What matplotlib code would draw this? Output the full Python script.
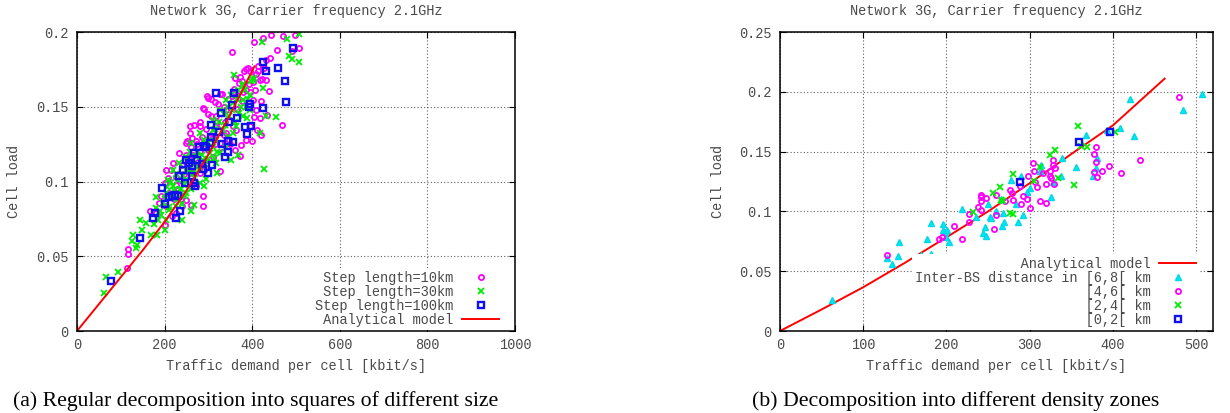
import matplotlib
matplotlib.use('Agg')
import matplotlib.pyplot as plt
from matplotlib.ticker import FormatStrFormatter

# --- (a) decomposition into squares: (traffic kbit/s, cell load)
step_10km = [
    (115, 0.042), (117, 0.0516), (117, 0.0547), (167, 0.080), (200, 0.0708), (216, 0.077),
    (287, 0.0833), (287, 0.0906), (261, 0.0844), (240, 0.0833), (257, 0.1324), (259, 0.1368),
    (263, 0.129), (271, 0.1268), (280, 0.1368), (291, 0.1484), (299, 0.1556), (306, 0.1551),
    (316, 0.1529), (326, 0.1585), (332, 0.1587), (353, 0.1866), (353, 0.157), (360, 0.1692),
    (377, 0.1674), (381, 0.1737), (385, 0.1752), (390, 0.1759), (395, 0.1737), (403, 0.1931),
    (413, 0.177), (413, 0.1737), (425, 0.196), (443, 0.1982), (440, 0.1826), (432, 0.1815),
    (423, 0.1685), (432, 0.168), (438, 0.1605), (407, 0.1614), (401, 0.1663), (421, 0.154),
    (417, 0.1424), (434, 0.1442), (412, 0.1346), (421, 0.1313), (400, 0.127), (375, 0.1243),
    (373, 0.1172), (362, 0.1342), (365, 0.1487), (403, 0.1429), (456, 0.1882), (471, 0.197),
    (497, 0.198), (506, 0.189), (490, 0.187), (469, 0.1377), (377, 0.154), (287, 0.149),
    (326, 0.1067), (305, 0.1435), (317, 0.1368), (261, 0.1234), (248, 0.118), (240, 0.1112),
    (215, 0.1078), (208, 0.1022), (200, 0.0989), (192, 0.090), (187, 0.0855), (181, 0.0788),
    (204, 0.0833), (227, 0.0788), (249, 0.0877), (272, 0.0967), (280, 0.1056), (295, 0.1145),
    (310, 0.1167), (326, 0.1257), (341, 0.1324), (356, 0.1368), (348, 0.128), (360, 0.121),
    (386, 0.128), (394, 0.1368), (409, 0.148), (401, 0.1547), (386, 0.1614), (371, 0.1658),
    (341, 0.148), (318, 0.1435), (303, 0.130), (288, 0.1234), (249, 0.1257), (234, 0.119),
    (219, 0.1123), (204, 0.1078), (227, 0.1033), (265, 0.110), (280, 0.1201),
    (230, 0.095), (245, 0.105), (255, 0.115), (265, 0.118), (275, 0.125), (285, 0.130),
    (295, 0.135), (310, 0.130), (320, 0.140), (335, 0.150), (345, 0.155), (210, 0.092),
    (225, 0.098), (238, 0.088), (270, 0.100), (290, 0.108), (330, 0.120), (350, 0.125),
    (365, 0.158), (380, 0.160), (395, 0.160), (300, 0.145), (280, 0.140),
    (252, 0.127), (268, 0.138), (296, 0.157), (322, 0.152), (338, 0.140), (358, 0.162),
    (372, 0.170), (392, 0.165), (408, 0.172), (418, 0.168), (428, 0.176), (222, 0.088),
    (236, 0.101), (258, 0.106), (276, 0.113), (300, 0.121), (314, 0.125), (336, 0.131),
]
step_30km = [
    (62, 0.0257), (66, 0.0364), (93, 0.0393), (128, 0.064), (125, 0.0605), (135, 0.0558),
    (144, 0.0743), (148, 0.0676), (136, 0.0576), (176, 0.0717), (182, 0.064), (180, 0.0895),
    (170, 0.0643), (192, 0.0779), (204, 0.0743), (201, 0.0676), (211, 0.081), (261, 0.0801),
    (268, 0.0844), (289, 0.0967), (423, 0.1933), (479, 0.1955), (506, 0.1984), (485, 0.1837),
    (491, 0.182), (506, 0.180), (426, 0.1085), (454, 0.1429), (431, 0.1435), (417, 0.1324),
    (425, 0.1625), (359, 0.1714), (404, 0.1694), (398, 0.167), (388, 0.1424), (367, 0.1176),
    (351, 0.1145), (320, 0.106), (295, 0.102), (249, 0.101), (238, 0.0953), (227, 0.0888),
    (246, 0.090), (219, 0.0967), (208, 0.101), (219, 0.1078), (234, 0.1123), (249, 0.1167),
    (261, 0.1257), (280, 0.1324), (291, 0.128), (310, 0.1413), (326, 0.148), (341, 0.1547),
    (356, 0.1525), (371, 0.157), (379, 0.1547), (386, 0.150), (371, 0.1458), (348, 0.1435),
    (333, 0.1346), (318, 0.128), (303, 0.119), (288, 0.1145), (272, 0.110), (265, 0.1056),
    (249, 0.1078), (280, 0.0989), (310, 0.1234), (326, 0.119), (318, 0.1123), (341, 0.1234),
    (356, 0.1324), (363, 0.1368), (379, 0.1435), (394, 0.148), (401, 0.168), (379, 0.1636),
    (368, 0.1614), (181, 0.0821), (196, 0.0855), (227, 0.0833), (240, 0.0743), (204, 0.092),
    (215, 0.100), (230, 0.101), (272, 0.1167), (257, 0.120), (310, 0.1346),
    (215, 0.090), (225, 0.105), (235, 0.095), (245, 0.098), (255, 0.108), (265, 0.112),
    (275, 0.120), (285, 0.118), (295, 0.125), (305, 0.128), (315, 0.135), (325, 0.140),
    (335, 0.145), (345, 0.150), (355, 0.148), (365, 0.155), (240, 0.085), (250, 0.092),
    (260, 0.095), (270, 0.105), (280, 0.108), (300, 0.115), (320, 0.120), (190, 0.080),
    (200, 0.088), (210, 0.083), (230, 0.088), (345, 0.130), (360, 0.140), (375, 0.150),
    (390, 0.155), (380, 0.165),
    (158, 0.072), (186, 0.074), (206, 0.096), (222, 0.094), (242, 0.104), (262, 0.114),
    (292, 0.112), (312, 0.116), (338, 0.138), (352, 0.158), (384, 0.161), (396, 0.158),
]
step_100km = [
    (77, 0.0335), (143, 0.0623), (173, 0.0754), (179, 0.0792), (194, 0.0955), (201, 0.0848),
    (209, 0.0895), (218, 0.0904), (224, 0.0913), (230, 0.090), (226, 0.0759), (235, 0.0801),
    (232, 0.104), (243, 0.1076), (246, 0.099), (250, 0.1145), (255, 0.1125), (262, 0.1107),
    (262, 0.104), (267, 0.1188), (268, 0.099), (269, 0.097), (275, 0.1145), (278, 0.1228),
    (285, 0.1114), (287, 0.1085), (290, 0.1237), (295, 0.1232), (300, 0.1058), (303, 0.126),
    (305, 0.130), (306, 0.1377), (308, 0.111), (317, 0.1594), (325, 0.133), (328, 0.1455),
    (332, 0.125), (338, 0.1167), (344, 0.127), (345, 0.120), (348, 0.140), (354, 0.151),
    (356, 0.1266), (359, 0.1594), (366, 0.1426), (384, 0.1366), (387, 0.132), (392, 0.150),
    (395, 0.152), (398, 0.137), (424, 0.1797), (424, 0.149), (431, 0.174), (459, 0.1757),
    (476, 0.167), (478, 0.153), (493, 0.189),
]
model_a_x = [0, 50, 100, 150, 200, 250, 300, 350, 405]
model_a_y = [0, 0.018, 0.036, 0.054, 0.073, 0.094, 0.118, 0.145, 0.177]

# --- (b) density zones
dist_6_8 = [
    (62, 0.026), (129, 0.0614), (135, 0.056), (142, 0.0628), (143, 0.0748), (169, 0.0636),
    (177, 0.0767), (181, 0.090), (182, 0.0645), (196, 0.0896), (196, 0.0845), (198, 0.0831),
    (201, 0.0845), (200, 0.0784), (203, 0.0742), (219, 0.1018), (235, 0.0957), (244, 0.0823),
    (246, 0.0873), (248, 0.0795), (250, 0.1063), (252, 0.0957), (253, 0.0943), (260, 0.1007),
    (266, 0.1102), (267, 0.0879), (268, 0.0985), (269, 0.0915), (278, 0.1264), (284, 0.1063),
    (286, 0.0915), (290, 0.1292), (292, 0.0971), (297, 0.1166), (300, 0.1194), (312, 0.1334),
    (314, 0.139), (325, 0.1124), (328, 0.125), (338, 0.1297), (339, 0.1445), (355, 0.137),
    (368, 0.164), (376, 0.1292), (380, 0.1362), (381, 0.1443), (393, 0.168), (408, 0.1696),
    (421, 0.1939), (425, 0.1627), (484, 0.1844), (507, 0.1984),
]
dist_4_6 = [
    (129, 0.0636), (191, 0.0767), (195, 0.0784), (209, 0.0879), (219, 0.0773), (227, 0.0915),
    (227, 0.0982), (238, 0.1041), (241, 0.1124), (242, 0.1138), (242, 0.1088), (242, 0.1013),
    (248, 0.1113), (257, 0.0851), (259, 0.0968), (259, 0.1138), (270, 0.1091), (276, 0.118),
    (279, 0.1158), (280, 0.1097), (288, 0.1214), (289, 0.1066), (292, 0.113), (297, 0.1102),
    (300, 0.103), (298, 0.1297), (304, 0.1406), (305, 0.1336), (306, 0.125), (309, 0.1203),
    (316, 0.1325), (320, 0.123), (320, 0.1069), (312, 0.1091), (324, 0.1297), (324, 0.1334),
    (325, 0.1278), (328, 0.1426), (328, 0.139), (329, 0.1228), (330, 0.1367), (377, 0.1328),
    (379, 0.154), (377, 0.1482), (380, 0.1417), (381, 0.1286), (387, 0.1334), (395, 0.1381),
    (410, 0.1325), (432, 0.1431), (479, 0.1953),
]
dist_2_4 = [
    (232, 0.0999), (256, 0.1152), (264, 0.120), (266, 0.1097), (268, 0.1083), (276, 0.099),
    (280, 0.0979), (280, 0.1314), (305, 0.1258), (312, 0.137), (324, 0.1473), (330, 0.151),
    (334, 0.1278), (353, 0.1222), (358, 0.171), (361, 0.1549), (369, 0.1535), (403, 0.166),
]
dist_0_2 = [(288, 0.1242), (359, 0.1582), (397, 0.166)]
model_b_x = [0, 50, 100, 150, 200, 250, 300, 350, 400, 462]
model_b_y = [0, 0.018, 0.0366, 0.057, 0.0784, 0.100, 0.1236, 0.148, 0.172, 0.211]

MONO = 'Liberation Mono'
GREY = '#4a4a4a'
plt.rcParams['font.family'] = MONO
plt.rcParams['font.size'] = 9.8

fig = plt.figure(figsize=(12.3, 4.13), dpi=100)
ax1 = fig.add_axes([0.0626, 0.1985, 0.3561, 0.724])
ax2 = fig.add_axes([0.6341, 0.1985, 0.3520, 0.724])

circ = dict(ls='none', marker='o', ms=3.7, mfc='none', mec='#ff00ff', mew=1.3)
cross = dict(ls='none', marker='x', ms=3.8, color='#00ee00', mew=1.3)
square = dict(ls='none', marker='s', ms=4.3, mfc='none', mec='#1010ee', mew=1.7)
tri = dict(ls='none', marker='^', ms=5.0, color='#00e8f0', mec='#00d8e8')


def xy(pts):
    return [p[0] for p in pts], [p[1] for p in pts]


ax1.plot(*xy(step_10km), label='Step length=10km'.rjust(17), **circ)
ax1.plot(*xy(step_30km), label='Step length=30km'.rjust(17), **cross)
ax1.plot(*xy(step_100km), label='Step length=100km'.rjust(17), **square)
ax1.plot(model_a_x, model_a_y, color='#ff0000', lw=1.4, label='Analytical model'.rjust(17))

ax2.plot(model_b_x, model_b_y, color='#ff0000', lw=1.4, label='Analytical model'.rjust(29))
ax2.plot(*xy(dist_6_8), label='Inter-BS distance in [6,8[ km'.rjust(29), **tri)
ax2.plot(*xy(dist_4_6), label='[4,6[ km'.rjust(29), **circ)
ax2.plot(*xy(dist_2_4), label='[2,4[ km'.rjust(29), **cross)
ax2.plot(*xy(dist_0_2), label='[0,2[ km'.rjust(29), **square)

ax1.set_xlim(0, 1000)
ax1.set_ylim(0, 0.2)
ax1.set_xticks(range(0, 1001, 200))
ax1.set_yticks([0, 0.05, 0.1, 0.15, 0.2])
ax2.set_xlim(0, 520)
ax2.set_ylim(0, 0.25)
ax2.set_xticks(range(0, 501, 100))
ax2.set_yticks([0, 0.05, 0.1, 0.15, 0.2, 0.25])

for ax, right in ((ax1, 0.970), (ax2, 0.9677)):
    ax.yaxis.set_major_formatter(FormatStrFormatter('%g'))
    ax.grid(True, ls=(0, (1, 2)), color='#606060', lw=0.8)
    ax.set_axisbelow(True)
    ax.tick_params(direction='in', top=True, right=True, length=4, width=0.8,
                   colors='black', labelcolor=GREY)
    ax.tick_params(axis='y', pad=6)
    ax.tick_params(axis='x', pad=5)
    for s in ax.spines.values():
        s.set_linewidth(1.1)
    ax.set_title('Network 3G, Carrier frequency 2.1GHz', color=GREY, pad=12, fontsize=9.8)
    ax.set_xlabel('Traffic demand per cell [kbit/s]', color=GREY)
    ax.set_ylabel('Cell load', color=GREY)
    ax.xaxis.set_label_coords(0.5, -0.094)
    ax.yaxis.set_label_coords(-0.128, 0.5)
    leg = ax.legend(loc='lower right', bbox_to_anchor=(right, 0.004), markerfirst=False,
                    frameon=True, fancybox=False, framealpha=1, facecolor='white',
                    edgecolor='none', borderpad=0.2, borderaxespad=0, labelspacing=0.0,
                    handlelength=2.7, handletextpad=0.65, numpoints=1, fontsize=9.8)
    for t in leg.get_texts():
        t.set_color(GREY)

fig.text(256 / 1230, 1 - 401 / 413, '(a) Regular decomposition into squares of different size',
         ha='center', va='center', family='Liberation Serif', fontsize=15.7)
fig.text(956 / 1230, 1 - 401 / 413, '(b) Decomposition into different density zones',
         ha='center', va='center', family='Liberation Serif', fontsize=15.7)

fig.savefig('out.png', dpi=100)
